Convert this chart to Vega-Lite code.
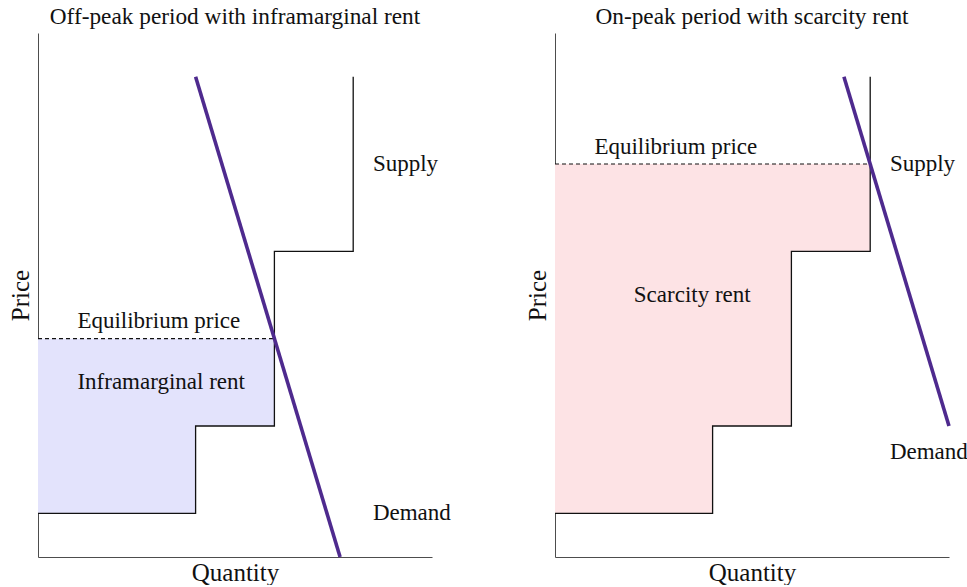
{
  "$schema": "https://vega.github.io/schema/vega-lite/v6.json",
  "padding": {"left": 8, "top": 4, "right": 0, "bottom": 0},
  "spacing": 123,
  "bounds": "flush",
  "background": "white",
  "config": {
    "view": {"stroke": null},
    "font": "'Liberation Serif', 'DejaVu Serif', serif",
    "axis": {"domainColor": "#4d4d4d", "domainWidth": 1, "ticks": false, "labels": false, "grid": false, "titleFont": "'Liberation Serif', 'DejaVu Serif', serif", "titleFontWeight": "normal", "titleFontSize": 25, "titleColor": "#111", "titlePadding": 3},
    "axisLeft": {"titleBaseline": "alphabetic", "titlePadding": 10},
    "title": {"font": "'Liberation Serif', 'DejaVu Serif', serif", "fontSize": 23.3, "fontWeight": "normal", "color": "#111", "offset": 4},
    "text": {"font": "'Liberation Serif', 'DejaVu Serif', serif", "fontSize": 23, "color": "#111"}
  },
  "hconcat": [
    {
      "title": "Off-peak period with inframarginal rent",
      "width": 394,
      "height": 524,
      "encoding": {
        "x": {"field": "q", "type": "quantitative", "scale": {"domain": [0, 10], "nice": false, "zero": true}, "axis": {"title": "Quantity"}},
        "y": {"field": "p", "type": "quantitative", "scale": {"domain": [0, 12], "nice": false, "zero": true}, "axis": {"title": "Price"}}
      },
      "layer": [
        {
          "data": {"values": [{"q": 0, "p": 5, "p2": 1}, {"q": 4, "p": 5, "p2": 3}, {"q": 6, "p": 5, "p2": 3}]},
          "mark": {"type": "area", "interpolate": "step-after", "color": "#e3e3fc", "opacity": 1},
          "encoding": {"y2": {"field": "p2"}}
        },
        {
          "data": {"values": [{"i": 0, "q": 0, "p": 1}, {"i": 1, "q": 4, "p": 1}, {"i": 2, "q": 4, "p": 3}, {"i": 3, "q": 6, "p": 3}, {"i": 4, "q": 6, "p": 7}, {"i": 5, "q": 8, "p": 7}, {"i": 6, "q": 8, "p": 11}]},
          "mark": {"type": "line", "color": "#111", "strokeWidth": 1.3},
          "encoding": {"order": {"field": "i", "type": "quantitative"}}
        },
        {
          "data": {"values": [{"q": 0, "p": 5}, {"q": 6, "p": 5}]},
          "mark": {"type": "line", "color": "#111", "strokeWidth": 1.2, "strokeDash": [4, 3]},
          "encoding": {}
        },
        {
          "data": {"values": [{"q": 4, "p": 11}, {"q": 7.667, "p": 0}]},
          "mark": {"type": "line", "color": "#4e2a8e", "strokeWidth": 3.6},
          "encoding": {}
        },
        {
          "data": {"values": [{"q": 8.5, "p": 9, "label": "Supply"}, {"q": 8.5, "p": 1, "label": "Demand"}, {"q": 1, "p": 5.4, "label": "Equilibrium price"}, {"q": 1, "p": 4, "label": "Inframarginal rent"}]},
          "mark": {"type": "text", "align": "left", "baseline": "middle"},
          "encoding": {"text": {"field": "label"}}
        }
      ]
    },
    {
      "title": "On-peak period with scarcity rent",
      "width": 394,
      "height": 524,
      "encoding": {
        "x": {"field": "q", "type": "quantitative", "scale": {"domain": [0, 10], "nice": false, "zero": true}, "axis": {"title": "Quantity"}},
        "y": {"field": "p", "type": "quantitative", "scale": {"domain": [0, 12], "nice": false, "zero": true}, "axis": {"title": "Price"}}
      },
      "layer": [
        {
          "data": {"values": [{"q": 0, "p": 9, "p2": 1}, {"q": 4, "p": 9, "p2": 3}, {"q": 6, "p": 9, "p2": 7}, {"q": 8, "p": 9, "p2": 7}]},
          "mark": {"type": "area", "interpolate": "step-after", "color": "#fde3e5", "opacity": 1},
          "encoding": {"y2": {"field": "p2"}}
        },
        {
          "data": {"values": [{"i": 0, "q": 0, "p": 1}, {"i": 1, "q": 4, "p": 1}, {"i": 2, "q": 4, "p": 3}, {"i": 3, "q": 6, "p": 3}, {"i": 4, "q": 6, "p": 7}, {"i": 5, "q": 8, "p": 7}, {"i": 6, "q": 8, "p": 11}]},
          "mark": {"type": "line", "color": "#111", "strokeWidth": 1.3},
          "encoding": {"order": {"field": "i", "type": "quantitative"}}
        },
        {
          "data": {"values": [{"q": 0, "p": 9}, {"q": 8, "p": 9}]},
          "mark": {"type": "line", "color": "#111", "strokeWidth": 1.2, "strokeDash": [4, 3]},
          "encoding": {}
        },
        {
          "data": {"values": [{"q": 7.333, "p": 11}, {"q": 10, "p": 3}]},
          "mark": {"type": "line", "color": "#4e2a8e", "strokeWidth": 3.6},
          "encoding": {}
        },
        {
          "data": {"values": [{"q": 8.5, "p": 9, "label": "Supply"}, {"q": 8.5, "p": 2.4, "label": "Demand"}, {"q": 1, "p": 9.4, "label": "Equilibrium price"}, {"q": 2, "p": 6, "label": "Scarcity rent"}]},
          "mark": {"type": "text", "align": "left", "baseline": "middle"},
          "encoding": {"text": {"field": "label"}}
        }
      ]
    }
  ]
}
